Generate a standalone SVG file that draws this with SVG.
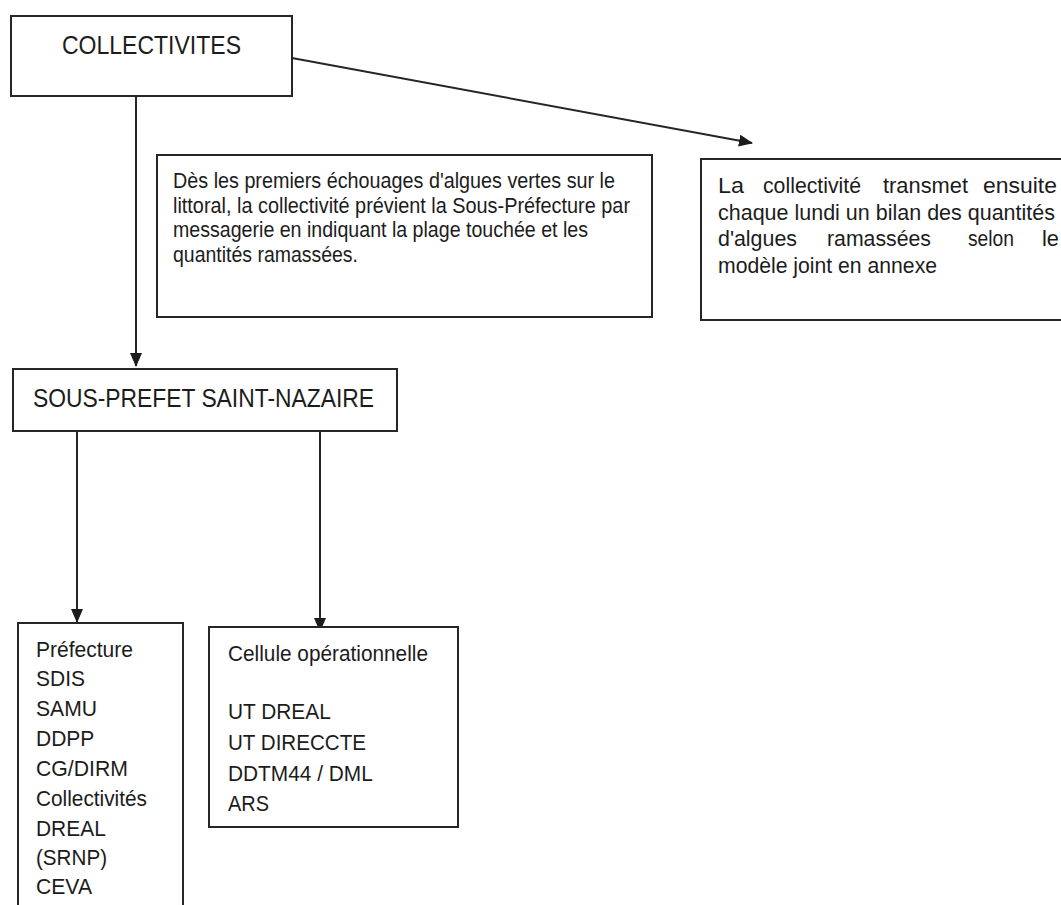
<svg xmlns="http://www.w3.org/2000/svg" width="1061" height="905" viewBox="0 0 1061 905">
  <style>
    .box { fill: #ffffff; stroke: #262626; stroke-width: 2; }
    .txt { font-family: "Liberation Sans", Arial, sans-serif; fill: #1c1c1c; }
    .title { font-size: 26px; }
    .body { font-size: 22.5px; }
    .link { fill: none; stroke: #262626; stroke-width: 2; }
  </style>
  <defs>
    <marker id="arrow" markerUnits="userSpaceOnUse" markerWidth="14" markerHeight="12" refX="13" refY="6" orient="auto">
      <path d="M0,0 L14,6 L0,12 z" fill="#1c1c1c"/>
    </marker>
  </defs>
  <rect width="1061" height="905" fill="#ffffff"/>

  <!-- connectors -->
  <g id="connectors">
    <line class="link" x1="136" y1="96" x2="136" y2="366" marker-end="url(#arrow)"/>
    <line class="link" x1="292" y1="58" x2="752" y2="143" marker-end="url(#arrow)"/>
    <line class="link" x1="77" y1="431" x2="77" y2="622" marker-end="url(#arrow)"/>
    <line class="link" x1="320" y1="431" x2="320" y2="631" marker-end="url(#arrow)"/>
  </g>

  <g id="collectivites">
    <rect class="box" x="11" y="16" width="281" height="80"/>
    <text class="txt title" x="62" y="54" textLength="179" lengthAdjust="spacingAndGlyphs">COLLECTIVITES</text>
  </g>

  <g id="note-alerte">
    <rect class="box" x="157" y="155" width="495" height="162"/>
    <text class="txt body">
      <tspan x="173" y="188" textLength="442" lengthAdjust="spacingAndGlyphs">Dès les premiers échouages d'algues vertes sur le</tspan>
      <tspan x="173" y="213" textLength="457" lengthAdjust="spacingAndGlyphs">littoral, la collectivité prévient la Sous-Préfecture par</tspan>
      <tspan x="173" y="237" textLength="415" lengthAdjust="spacingAndGlyphs">messagerie en indiquant la plage touchée et les</tspan>
      <tspan x="173" y="262" textLength="185" lengthAdjust="spacingAndGlyphs">quantités ramassées.</tspan>
    </text>
  </g>

  <g id="note-bilan">
    <rect class="box" x="701" y="159" width="380" height="161"/>
    <text class="txt body">
      <tspan x="718" y="193" textLength="26" lengthAdjust="spacingAndGlyphs">La</tspan>
      <tspan x="763" y="193" textLength="98" lengthAdjust="spacingAndGlyphs">collectivité</tspan>
      <tspan x="883" y="193" textLength="85" lengthAdjust="spacingAndGlyphs">transmet</tspan>
      <tspan x="983" y="193" textLength="74" lengthAdjust="spacingAndGlyphs">ensuite</tspan>
      <tspan x="718" y="220" textLength="337" lengthAdjust="spacingAndGlyphs">chaque lundi un bilan des quantités</tspan>
      <tspan x="718" y="246" textLength="79" lengthAdjust="spacingAndGlyphs">d'algues</tspan>
      <tspan x="827" y="246" textLength="104" lengthAdjust="spacingAndGlyphs">ramassées</tspan>
      <tspan x="968" y="246" textLength="46" lengthAdjust="spacingAndGlyphs">selon</tspan>
      <tspan x="1042" y="246" textLength="17" lengthAdjust="spacingAndGlyphs">le</tspan>
      <tspan x="718" y="273" textLength="219" lengthAdjust="spacingAndGlyphs">modèle joint en annexe</tspan>
    </text>
  </g>

  <g id="sous-prefet">
    <rect class="box" x="13" y="369" width="384" height="62"/>
    <text class="txt title" x="33" y="407" textLength="341" lengthAdjust="spacingAndGlyphs">SOUS-PREFET SAINT-NAZAIRE</text>
  </g>

  <g id="services">
    <rect class="box" x="18" y="623" width="165" height="300"/>
    <text class="txt body">
      <tspan x="36" y="657" textLength="97" lengthAdjust="spacingAndGlyphs">Préfecture</tspan>
      <tspan x="36" y="686" textLength="49" lengthAdjust="spacingAndGlyphs">SDIS</tspan>
      <tspan x="36" y="716" textLength="61" lengthAdjust="spacingAndGlyphs">SAMU</tspan>
      <tspan x="36" y="746" textLength="58" lengthAdjust="spacingAndGlyphs">DDPP</tspan>
      <tspan x="36" y="776" textLength="92" lengthAdjust="spacingAndGlyphs">CG/DIRM</tspan>
      <tspan x="36" y="806" textLength="111" lengthAdjust="spacingAndGlyphs">Collectivités</tspan>
      <tspan x="36" y="836" textLength="69" lengthAdjust="spacingAndGlyphs">DREAL</tspan>
      <tspan x="36" y="865" textLength="71" lengthAdjust="spacingAndGlyphs">(SRNP)</tspan>
      <tspan x="36" y="894" textLength="56" lengthAdjust="spacingAndGlyphs">CEVA</tspan>
    </text>
  </g>

  <g id="cellule">
    <rect class="box" x="209" y="627" width="249" height="200"/>
    <text class="txt body">
      <tspan x="228" y="661" textLength="200" lengthAdjust="spacingAndGlyphs">Cellule opérationnelle</tspan>
      <tspan x="228" y="719" textLength="102" lengthAdjust="spacingAndGlyphs">UT DREAL</tspan>
      <tspan x="228" y="750" textLength="138" lengthAdjust="spacingAndGlyphs">UT DIRECCTE</tspan>
      <tspan x="228" y="781" textLength="144" lengthAdjust="spacingAndGlyphs">DDTM44 / DML</tspan>
      <tspan x="228" y="811" textLength="41" lengthAdjust="spacingAndGlyphs">ARS</tspan>
    </text>
  </g>
</svg>
